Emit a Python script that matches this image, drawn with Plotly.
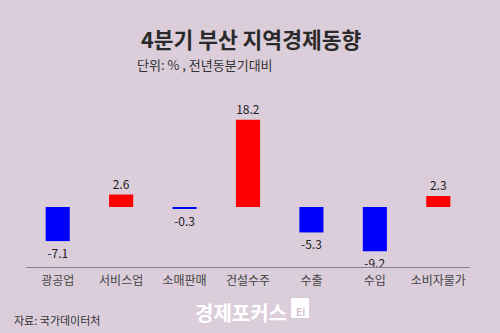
import plotly.graph_objects as go

categories = ["광공업", "서비스업", "소매판매", "건설수주", "수출", "수입", "소비자물가"]
values = [-7.1, 2.6, -0.3, 18.2, -5.3, -9.2, 2.3]
labels = ["-7.1", "2.6", "-0.3", "18.2", "-5.3", "-9.2", "2.3"]

BG = "#dbcdda"
FONT = "Noto Sans CJK KR"
colors = ["#ff0000" if v > 0 else "#0000ff" for v in values]

L, R, T, B = 26, 30, 100, 66
pw, ph = 500 - L - R, 333 - T - B

def px(x): return (x - L) / pw
def py(y): return 1 - (y - T) / ph

fig = go.Figure(go.Bar(
    x=categories, y=values,
    marker=dict(color=colors, line=dict(width=0)),
    text=labels, textposition="outside", cliponaxis=False,
    textfont=dict(family=FONT, size=12, color="#222222"),
))

def ann(text, x, y, size, color, xanchor="center"):
    return dict(text=text, x=px(x), y=py(y), xref="paper", yref="paper",
                xanchor=xanchor, yanchor="middle", showarrow=False,
                font=dict(family=FONT, size=size, color=color))

fig.update_layout(
    width=500, height=333,
    margin=dict(l=L, r=R, t=T, b=B),
    paper_bgcolor=BG, plot_bgcolor=BG,
    bargap=0.62, showlegend=False,
    font=dict(family=FONT, color="#333333"),
    xaxis=dict(showline=True, linecolor="#8a8090", linewidth=1, ticks="",
               ticklabelstandoff=3,
               tickfont=dict(family=FONT, size=12, color="#444444"), showgrid=False),
    yaxis=dict(range=[-12.5, 22.3], visible=False, showgrid=False, zeroline=False),
    annotations=[
        ann("<b>4분기 부산 지역경제동향</b>", 251, 38.5, 21.5, "#2a2a2a"),
        ann("단위: % , 전년동분기대비", 135, 64, 13, "#333333", "left"),
        ann("자료: 국가데이터처", 12, 320, 11, "#333333", "left"),
        ann("<b>경제포커스</b>", 289, 312, 20, "#ffffff", "right"),
        ann("<b>Ei</b>", 300, 311, 10, "#cfc0cd"),
    ],
    shapes=[dict(type="rect", xref="paper", yref="paper",
                 x0=px(291), x1=px(309), y0=py(318), y1=py(298),
                 fillcolor="#ffffff", line=dict(width=0), layer="below")],
)

fig.write_html("out.html")
